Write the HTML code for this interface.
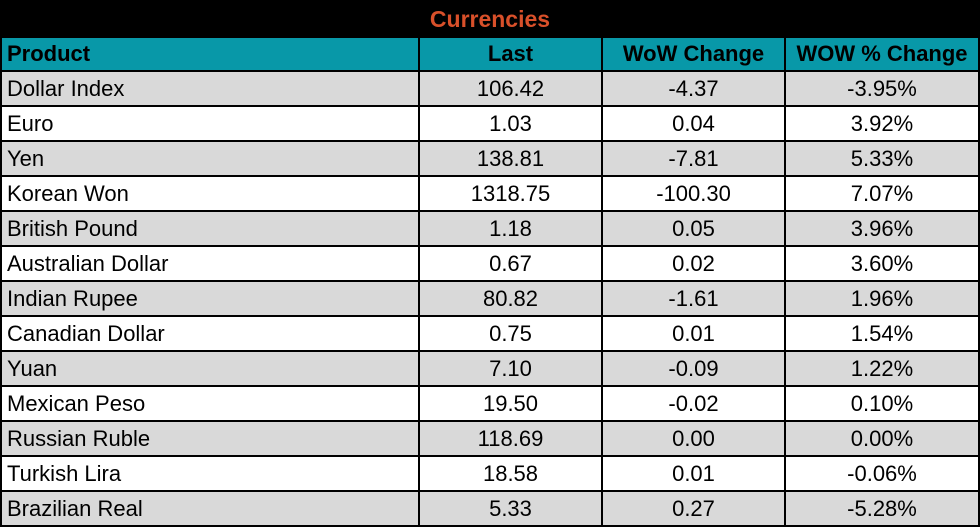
<!DOCTYPE html>
<html><head><style>
body{margin:0;width:980px;height:527px;background:#fff;overflow:hidden;font-family:"Liberation Sans",Arial,sans-serif}
.t{position:absolute;left:0;top:0;width:980px;height:36px;background:#000;color:#d9502a;font-weight:bold;font-size:23px;text-align:center;line-height:38px}
table{position:absolute;left:0;top:36px;border-collapse:collapse;table-layout:fixed}
td{border:2px solid #000;height:33px;padding:0;font-size:22px;text-align:center;color:#000;line-height:33px;white-space:nowrap;overflow:hidden}
td:first-child{text-align:left;padding-left:5px}
tr.h td{background:#0898a8;font-weight:bold;height:32px;line-height:32px}
tr.g td{background:#d9d9d9}
</style></head><body>
<div class="t">Currencies</div>
<table>
<colgroup><col style="width:418px"><col style="width:183px"><col style="width:183px"><col style="width:194px"></colgroup>
<tr class="h"><td>Product</td><td>Last</td><td>WoW Change</td><td>WOW % Change</td></tr>
<tr class="g"><td>Dollar Index</td><td>106.42</td><td>-4.37</td><td>-3.95%</td></tr>
<tr><td>Euro</td><td>1.03</td><td>0.04</td><td>3.92%</td></tr>
<tr class="g"><td>Yen</td><td>138.81</td><td>-7.81</td><td>5.33%</td></tr>
<tr><td>Korean Won</td><td>1318.75</td><td>-100.30</td><td>7.07%</td></tr>
<tr class="g"><td>British Pound</td><td>1.18</td><td>0.05</td><td>3.96%</td></tr>
<tr><td>Australian Dollar</td><td>0.67</td><td>0.02</td><td>3.60%</td></tr>
<tr class="g"><td>Indian Rupee</td><td>80.82</td><td>-1.61</td><td>1.96%</td></tr>
<tr><td>Canadian Dollar</td><td>0.75</td><td>0.01</td><td>1.54%</td></tr>
<tr class="g"><td>Yuan</td><td>7.10</td><td>-0.09</td><td>1.22%</td></tr>
<tr><td>Mexican Peso</td><td>19.50</td><td>-0.02</td><td>0.10%</td></tr>
<tr class="g"><td>Russian Ruble</td><td>118.69</td><td>0.00</td><td>0.00%</td></tr>
<tr><td>Turkish Lira</td><td>18.58</td><td>0.01</td><td>-0.06%</td></tr>
<tr class="g"><td>Brazilian Real</td><td>5.33</td><td>0.27</td><td>-5.28%</td></tr>
</table>
</body></html>
